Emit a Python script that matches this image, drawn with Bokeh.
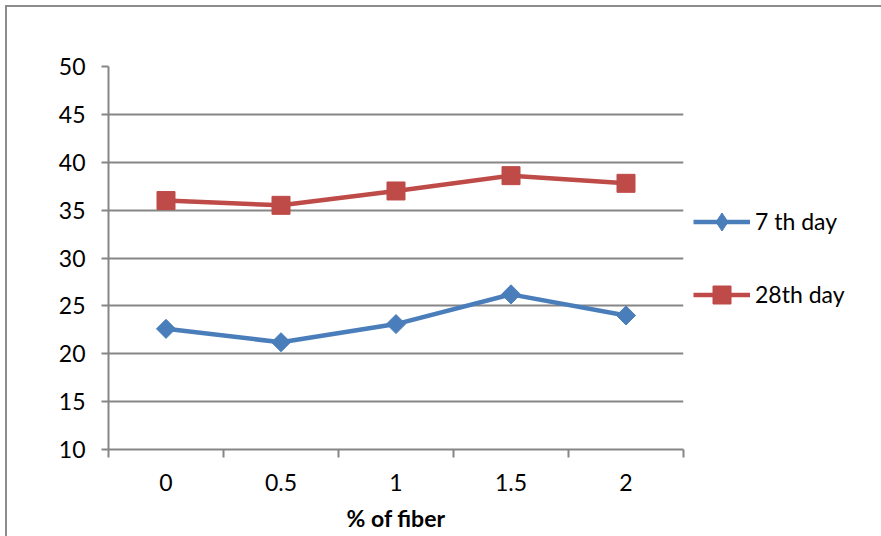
import math, re
from bokeh.plotting import figure
from bokeh.models import FixedTicker, Legend, LegendItem, Range1d, ColumnDataSource
from bokeh.embed import file_html
from bokeh.resources import INLINE

categories = ["0", "0.5", "1", "1.5", "2"]
day7 = [22.6, 21.2, 23.1, 26.2, 24.0]
day28 = [36.0, 35.5, 37.0, 38.6, 37.8]
y_ticks = [10, 15, 20, 25, 30, 35, 40, 45, 50]

xs = list(range(len(categories)))
FONT = "Lato"
FS = "23px"
GRID = "#868686"

p = figure(frame_width=575, frame_height=383, output_backend="svg", toolbar_location=None,
           x_range=Range1d(-0.5, len(categories) - 0.5), y_range=Range1d(10, 50),
           min_border_left=108, min_border_right=198, min_border_top=66, min_border_bottom=87)
p.outline_line_color = None
p.background_fill_color = "white"
p.border_fill_color = "white"

# x axis: labels at category centres, tick marks between categories
xt = FixedTicker(ticks=xs, minor_ticks=[i - 0.5 for i in range(len(categories) + 1)])
p.xaxis.ticker = xt
p.xaxis.major_label_overrides = {i: c for i, c in enumerate(categories)}
p.xaxis.major_tick_line_color = None
p.xaxis.minor_tick_in = 0
p.xaxis.minor_tick_out = 8
p.xaxis.minor_tick_line_color = GRID
p.xaxis.minor_tick_line_width = 2
p.xaxis.axis_line_color = GRID
p.xaxis.axis_line_width = 2
p.xaxis.major_label_text_font = FONT
p.xaxis.major_label_text_font_size = FS
p.xaxis.major_label_text_color = "black"
p.xaxis.major_label_standoff = 16
p.xaxis.axis_label = "% of fiber"
p.xaxis.axis_label_text_font = FONT
p.xaxis.axis_label_text_font_size = FS
p.xaxis.axis_label_text_font_style = "bold"
p.xaxis.axis_label_text_color = "black"
p.xaxis.axis_label_standoff = 10

p.yaxis.ticker = FixedTicker(ticks=y_ticks, minor_ticks=[])
p.yaxis.major_tick_in = 0
p.yaxis.major_tick_out = 7
p.yaxis.major_tick_line_color = GRID
p.yaxis.major_tick_line_width = 2
p.yaxis.axis_line_color = GRID
p.yaxis.axis_line_width = 2
p.yaxis.major_label_text_font = FONT
p.yaxis.major_label_text_font_size = FS
p.yaxis.major_label_text_color = "black"
p.yaxis.major_label_standoff = 16

p.xgrid.grid_line_color = None
p.ygrid.ticker = FixedTicker(ticks=y_ticks)
p.ygrid.grid_line_color = GRID
p.ygrid.grid_line_width = 2

BLUE = "#4A7EBB"
RED = "#BE4B48"
src = ColumnDataSource(dict(x=xs, d7=day7, d28=day28))

p.line("x", "d7", source=src, line_color=BLUE, line_width=4.5)
p.scatter("x", "d7", source=src, marker="square", angle=math.pi / 4, size=13.5,
          fill_color=BLUE, line_color=BLUE)
p.line("x", "d28", source=src, line_color=RED, line_width=4.5)
p.scatter("x", "d28", source=src, marker="square", size=18,
          fill_color=RED, line_color=RED)

# hidden legend-key renderers so the legend keys match the reference
k1l = p.line("x", "d7", source=src, line_color=BLUE, line_width=4.5, visible=False)
k1m = p.scatter("x", "d7", source=src, marker="diamond", fill_color=BLUE, line_color=BLUE, visible=False)
k2l = p.line("x", "d28", source=src, line_color=RED, line_width=4.5, visible=False)
k2m = p.scatter("x", "d28", source=src, marker="square", fill_color=RED, line_color=RED, visible=False)

legend = Legend(items=[LegendItem(label="7 th day", renderers=[k1l, k1m]),
                       LegendItem(label="28th day", renderers=[k2l, k2m])],
                location="left", padding=0, margin=10, spacing=28,
                glyph_width=57, glyph_height=45, label_height=20, label_standoff=5,
                border_line_color=None, background_fill_alpha=0,
                label_text_font=FONT, label_text_font_size=FS, label_text_color="black")
p.add_layout(legend, "right")

html = file_html(p, INLINE)
border = ('<div style="position:absolute;left:5px;top:5px;width:880px;height:540px;'
          'border:2px solid #8c8c8c;box-sizing:border-box;pointer-events:none;z-index:10"></div>')
html = html.replace("</body>", border + "</body>", 1)
html = re.sub(r"<body([^>]*)>", r'<body\1 style="margin:0">', html, count=1)
open("out.html", "w").write(html)
